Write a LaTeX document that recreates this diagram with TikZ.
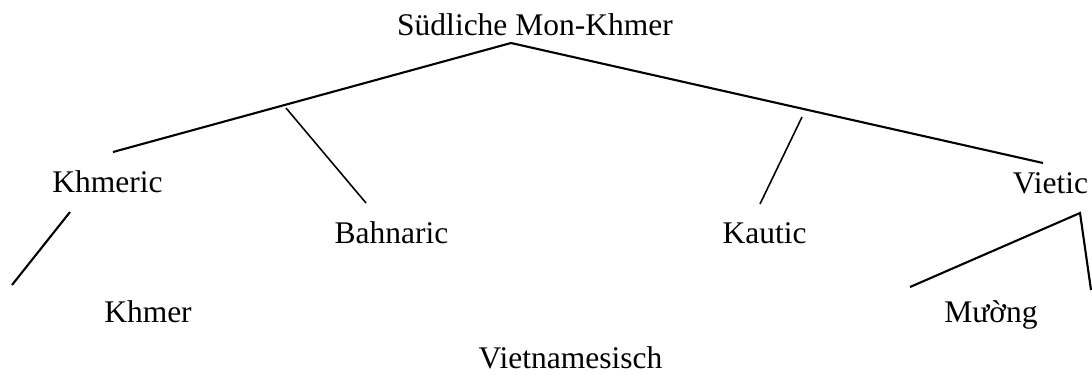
\documentclass[tikz,border=0pt]{standalone}
\usepackage{fontspec}
\setmainfont{Liberation Serif}

\begin{document}
\begin{tikzpicture}[x=0.381pt, y=-0.381pt,
              every node/.style = {anchor=base, inner sep=0pt, font=\fontsize{12pt}{14pt}\selectfont},
              branch/.style = {line width=0.8pt},
              twig/.style = {line width=0.6pt}]
  \useasboundingbox (0,0) rectangle (1092,374);
  % labels
  \node (sued)   at (535,35)    {Südliche Mon-Khmer};
  \node (khmeric) at (107.5,192) {Khmeric};
  \node (bahn)   at (391.5,243) {Bahnaric};
  \node (kaut)   at (764.5,243) {Kautic};
  \node (vietic) at (1050.5,193) {Vietic};
  \node (khmer)  at (148,322)   {Khmer};
  \node (muong)  at (991,322)   {Mường};
  \node (viet)   at (570.5,368) {Vietnamesisch};
  % line ends
  \coordinate (top) at (511,43);
  \coordinate (l1) at (113,152);
  \coordinate (r1) at (1043,163);
  \coordinate (b0) at (286,108);
  \coordinate (b1) at (366,203);
  \coordinate (k0) at (802,117);
  \coordinate (k1) at (760,204);
  \coordinate (m0) at (70,212);
  \coordinate (m1) at (12,285);
  \coordinate (v0) at (1080,213);
  \coordinate (v1) at (910,287);
  \coordinate (v2) at (1091,290);
  \draw[branch] (l1) -- (top) -- (r1);
  \draw[twig] (b0) -- (b1);
  \draw[twig] (k0) -- (k1);
  \draw[branch] (m0) -- (m1);
  \draw[branch] (v1) -- (v0) -- (v2);
\end{tikzpicture}
\end{document}
